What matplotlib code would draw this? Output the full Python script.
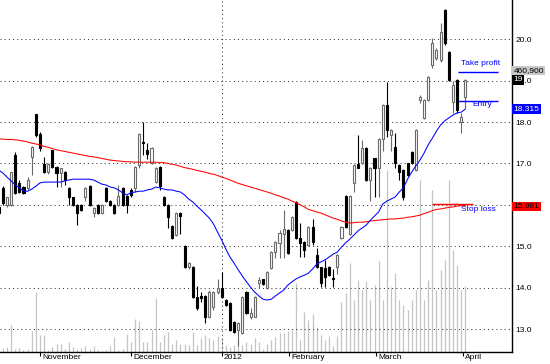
import matplotlib
matplotlib.use("Agg")
import matplotlib.pyplot as plt
from matplotlib.transforms import blended_transform_factory

# ---------------- data ----------------
opens = [15.95, 16.41, 16.0, 16.0, 17.20, 16.53, 16.43, 16.41, 17.16, 18.19,
         17.71, 16.99, 16.79, 17.32, 16.91, 16.77, 16.79, 16.41, 16.19, 16.0,
         16.0, 16.19, 16.45, 15.80, 16.0, 15.8, 16.41, 16.09, 16.0, 16.0,
         16.41, 16.21, 16.36, 16.41, 16.96, 17.53, 17.32, 17.01, 16.55, 16.91,
         16.19, 16.0, 15.49, 15.27, 15.8, 15.0, 14.5, 14.5, 13.77, 13.8,
         13.8, 13.29, 13.53, 13.9, 14.0, 13.7, 13.63, 13.17, 12.98, 12.9,
         13.9, 13.3, 13.3, 14.1, 14.2, 13.98, 14.47, 14.87, 15.07, 15.30,
         15.39, 15.39, 16.08, 15.19, 15.11, 15.03, 15.47, 14.79, 14.49, 14.47,
         14.5, 14.24, 14.5, 15.19, 16.21, 15.30, 16.52, 16.98, 17.0, 17.38,
         16.6, 17.12, 16.88, 17.6, 18.41, 17.69, 17.40, 16.96, 16.84, 17.0,
         17.28, 16.84, 18.53, 18.1, 18.53, 19.38, 19.55, 19.5, 20.71, 19.69,
         18.48, 19.02, 18.0, 18.6]
highs = [16.0, 16.45, 16.2, 16.8, 17.28, 16.6, 16.45, 16.67, 17.42, 18.2,
         17.76, 17.16, 17.0, 17.33, 16.93, 16.9, 16.81, 16.43, 16.2, 16.02,
         16.02, 16.43, 16.48, 15.95, 16.02, 16.02, 16.43, 16.12, 16.02, 16.48,
         16.43, 16.23, 16.4, 16.93, 17.73, 18.0, 17.49, 17.39, 16.91, 16.93,
         16.21, 16.02, 15.51, 15.82, 15.82, 15.02, 14.62, 14.52, 14.04, 13.9,
         13.82, 13.95, 13.92, 14.2, 14.38, 13.72, 13.65, 13.19, 13.17, 13.79,
         13.92, 13.5, 13.8, 14.26, 14.22, 14.4, 14.89, 15.13, 15.39, 15.87,
         15.41, 15.72, 16.1, 15.56, 15.13, 15.49, 15.65, 14.95, 14.51, 14.67,
         14.52, 14.44, 14.81, 15.49, 16.23, 16.23, 16.98, 17.69, 17.57, 17.4,
         16.92, 17.14, 17.61, 18.43, 18.97, 17.83, 17.73, 16.98, 16.86, 17.02,
         17.3, 17.83, 18.65, 18.55, 19.11, 20.03, 19.8, 20.39, 20.73, 19.71,
         19.0, 19.04, 18.22, 19.04]
lows = [15.75, 16.0, 15.95, 15.98, 16.25, 16.29, 16.27, 16.36, 16.72, 17.65,
        17.3, 16.77, 16.75, 16.9, 16.43, 16.43, 16.48, 16.0, 15.98, 15.51,
        15.86, 16.1, 15.98, 15.7, 15.78, 15.78, 16.07, 15.98, 15.78, 15.98,
        15.98, 15.8, 16.2, 16.31, 16.89, 17.2, 17.1, 16.99, 16.53, 16.36,
        15.98, 15.44, 15.18, 15.25, 15.3, 14.48, 14.45, 13.75, 13.45, 13.65,
        13.14, 13.27, 13.45, 13.85, 13.75, 13.56, 12.96, 12.91, 12.6, 12.88,
        13.37, 13.25, 13.28, 13.98, 14.07, 13.96, 14.45, 14.71, 14.71, 14.71,
        14.81, 15.37, 15.17, 14.75, 14.75, 15.01, 15.03, 14.47, 14.02, 14.02,
        14.28, 14.02, 14.34, 15.17, 15.45, 15.28, 16.32, 16.88, 16.98, 16.58,
        16.1, 16.2, 16.2, 17.3, 17.64, 17.3, 16.9, 16.6, 16.12, 16.7,
        16.98, 16.82, 18.45, 18.08, 18.51, 19.31, 19.5, 19.45, 19.86, 19.0,
        18.22, 18.22, 17.74, 18.34]
closes = [15.80, 16.04, 16.19, 16.79, 16.29, 16.31, 16.29, 16.6, 17.40, 17.69,
          17.37, 16.79, 16.99, 16.91, 16.77, 16.89, 16.60, 16.19, 16.0, 15.80,
          15.88, 16.41, 16.0, 15.92, 15.8, 16.0, 16.09, 16.0, 15.8, 16.21,
          16.0, 16.0, 16.24, 16.91, 17.71, 17.49, 17.22, 17.37, 16.89, 16.45,
          16.0, 15.71, 15.2, 15.8, 15.72, 14.5, 14.6, 13.77, 13.5, 13.75,
          13.29, 13.9, 13.9, 14.0, 13.77, 13.58, 12.98, 12.93, 13.15, 13.77,
          13.39, 13.38, 13.78, 14.18, 14.09, 14.38, 14.87, 15.11, 15.31, 15.41,
          14.83, 15.70, 15.19, 15.07, 14.91, 15.47, 15.11, 14.49, 14.10, 14.26,
          14.3, 14.2, 14.79, 15.47, 15.47, 16.21, 16.96, 16.9, 17.38, 16.6,
          16.9, 16.88, 17.59, 18.41, 17.81, 17.81, 17.0, 16.8, 16.19, 16.72,
          17.0, 17.81, 18.6, 18.53, 19.09, 19.91, 19.75, 20.17, 19.91, 19.02,
          18.89, 18.29, 18.12, 19.02]
volume_thousands = [47, 26, 33, 186, 19, 26, 12, 19, 145, 417,
                    117, 117, 12, 33, 54, 54, 19, 68, 33, 19,
                    26, 40, 19, 40, 12, 5, 12, 40, 103, 12,
                    19, 124, 68, 228, 214, 68, 68, 152, 375, 68,
                    117, 138, 54, 82, 54, 54, 47, 138, 47, 96,
                    117, 96, 82, 110, 96, 47, 33, 47, 82, 47,
                    68, 54, 96, 68, 19, 54, 82, 103, 131, 131,
                    145, 152, 480, 82, 277, 221, 263, 172, 117, 82,
                    110, 40, 110, 347, 410, 619, 361, 501, 431, 494,
                    361, 466, 633, 361, 1269, 452, 550, 361, 326, 291,
                    361, 431, 1199, 361, 501, 1129, 431, 571, 640, 1199,
                    710, 605, 431, 460.9]
ma_short = [16.84, 16.77, 16.67, 16.58, 16.48, 16.41, 16.33, 16.33, 16.38, 16.45,
            16.53, 16.55, 16.55, 16.55, 16.55, 16.55, 16.58, 16.60, 16.62, 16.62,
            16.62, 16.62, 16.62, 16.60, 16.55, 16.50, 16.48, 16.43, 16.41, 16.36,
            16.29, 16.24, 16.29, 16.31, 16.33, 16.33, 16.36, 16.38, 16.43, 16.41,
            16.38, 16.36, 16.36, 16.33, 16.31, 16.24, 16.14, 16.07, 15.97, 15.88,
            15.78, 15.68, 15.54, 15.34, 15.15, 14.93, 14.74, 14.59, 14.43, 14.28,
            14.14, 14.01, 13.89, 13.80, 13.72, 13.70, 13.72, 13.80, 13.87, 13.94,
            14.06, 14.14, 14.21, 14.26, 14.30, 14.35, 14.45, 14.57, 14.62, 14.67,
            14.74, 14.81, 14.86, 14.98, 15.08, 15.17, 15.27, 15.37, 15.44, 15.51,
            15.63, 15.73, 15.83, 16.02, 16.09, 16.14, 16.19, 16.31, 16.41, 16.62,
            16.79, 16.94, 17.08, 17.25, 17.45, 17.61, 17.78, 17.93, 18.03, 18.10,
            18.17, 18.22, 18.24, 18.315]
ma_long = [17.59, 17.59, 17.58, 17.58, 17.57, 17.56, 17.54, 17.52, 17.49, 17.47,
           17.45, 17.41, 17.39, 17.36, 17.33, 17.31, 17.29, 17.27, 17.25, 17.23,
           17.21, 17.19, 17.17, 17.16, 17.14, 17.12, 17.10, 17.08, 17.07, 17.06,
           17.05, 17.04, 17.04, 17.03, 17.03, 17.03, 17.03, 17.03, 17.03, 17.02,
           17.02, 17.00, 16.98, 16.96, 16.93, 16.90, 16.88, 16.86, 16.83, 16.81,
           16.79, 16.76, 16.74, 16.71, 16.67, 16.64, 16.60, 16.56, 16.52, 16.49,
           16.46, 16.43, 16.40, 16.37, 16.34, 16.31, 16.28, 16.24, 16.21, 16.17,
           16.14, 16.09, 16.05, 16.00, 15.95, 15.89, 15.86, 15.83, 15.80, 15.76,
           15.72, 15.68, 15.65, 15.61, 15.58, 15.56, 15.57, 15.58, 15.58, 15.59,
           15.61, 15.62, 15.63, 15.64, 15.65, 15.66, 15.66, 15.67, 15.68, 15.70,
           15.71, 15.73, 15.75, 15.79, 15.82, 15.86, 15.89, 15.90, 15.92, 15.94,
           15.95, 15.97, 15.98, 15.981]
month_labels = ["November", "December", "2012", "February", "March", "April"]
month_index = [10.0, 32.0, 54.0, 70.3, 91.4, 112.4]
price_ticks = [13.0, 14.0, 15.0, 16.0, 17.0, 18.0, 19.0, 20.0]
take_profit = 19.22
entry = 18.51
stop_loss = 16.01

# ---------------- figure ----------------
FONT = "Liberation Sans"
W, H = 550, 364
fig = plt.figure(figsize=(W / 100, H / 100), dpi=100)
pos = [0, 12.3 / H, 511.5 / W, 351.7 / H]
axv = fig.add_axes(pos)
ax = fig.add_axes(pos, sharex=axv)
ax.patch.set_visible(False)

n = len(closes)
idx = list(range(n))

# volume
axv.vlines(idx, 0, volume_thousands, color="#c4c4c4", lw=0.9)
axv.set_ylim(0, 2456)
axv.axis("off")

ax.set_xlim(0.315, 124.17)
ax.set_ylim(12.452, 20.949)

dot = (0, (1, 3))
for t in price_ticks:
    ax.axhline(t, color="#3a3a3a", lw=0.75, ls=dot, zorder=1)
ax.axvline(54.0, color="#3a3a3a", lw=0.75, ls=dot, zorder=1)

# candles
for i in idx:
    o, h, l, c = opens[i], highs[i], lows[i], closes[i]
    up = c >= o
    col = "#6a6a6a" if up else "black"
    ax.vlines(i, l, h, color=col, lw=0.8, zorder=3)
    bottom = min(o, c)
    height = max(abs(c - o), 0.02)
    ax.bar(i, height, bottom=bottom, width=0.5,
           color="white" if up else "black", edgecolor=col, lw=0.8, zorder=4)

ax.plot(idx, ma_long, color="#ff0000", lw=0.75, zorder=5)
ax.plot(idx, ma_short, color="#0000ff", lw=0.75, zorder=5)

# trade annotations
blue = "#0000ff"
ax.hlines(take_profit, 111.2, 120.9, color=blue, lw=1.0, zorder=6)
ax.hlines(entry, 111.2, 120.9, color=blue, lw=1.0, zorder=6)
ax.hlines(stop_loss, 104.9, 114.8, color="#ff0000", lw=1.0, zorder=6)
ax.text(111.9, take_profit + 0.12, "Take profit", color=blue, fontsize=6,
        family=FONT, va="bottom", ha="left", zorder=7)
ax.text(114.7, entry - 0.09, "Entry", color=blue, fontsize=6,
        family=FONT, va="center", ha="left", zorder=7)
ax.text(111.9, stop_loss - 0.12, "Stop loss", color=blue, fontsize=6,
        family=FONT, va="center", ha="left", zorder=7)

# axes frame
for s in ["left", "top"]:
    ax.spines[s].set_visible(False)
for s in ["right", "bottom"]:
    ax.spines[s].set_color("black")
    ax.spines[s].set_linewidth(1.0)

ax.yaxis.tick_right()
ax.set_yticks(price_ticks)
ax.set_yticklabels([f"{t:.1f}" for t in price_ticks], fontsize=6, family=FONT)
ax.tick_params(axis="y", length=0, pad=3)

ax.set_xticks(month_index)
ax.set_xticklabels([])
ax.tick_params(axis="x", length=3, width=0.8, direction="out", color="black")
trx = blended_transform_factory(ax.transData, ax.transAxes)
for m, p in zip(month_labels, month_index):
    ax.text(p + 0.5, -0.006, m, transform=trx, fontsize=6, family=FONT,
            ha="left", va="top", clip_on=False)

# partially visible top label
try_y = blended_transform_factory(ax.transAxes, ax.transData)
ax.text(1.0 + 3 / 511.5, 21.0, "21.0", transform=try_y, fontsize=6, family=FONT,
        ha="left", va="center", clip_on=False)

# right-hand value boxes
def box(y, s, fc, tc):
    ax.text(1.0 + 2 / 511.5, y, s, transform=try_y, fontsize=6, family=FONT,
            ha="left", va="center", color=tc, clip_on=False, zorder=10,
            bbox=dict(boxstyle="square,pad=0.15", fc=fc, ec="none"))

box(ma_long[-1] - 0.015, f"{ma_long[-1]:.3f}", "#ff0000", "black")
box(ma_short[-1], f"{ma_short[-1]:.3f}", blue, "white")
box(19.24, f"{int(round(volume_thousands[-1] * 1000)):,}", "#c8c8c8", "black")
box(closes[-1], "19", "black", "white")

fig.savefig("out.png", dpi=100, facecolor="white")
